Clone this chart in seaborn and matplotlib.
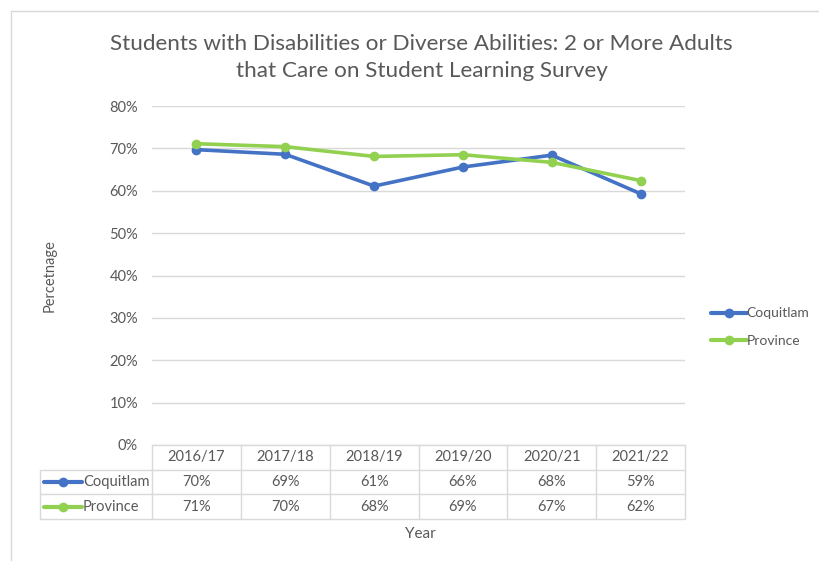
import matplotlib
matplotlib.use("Agg")
import matplotlib.pyplot as plt
import matplotlib.transforms as mtransforms
from matplotlib.lines import Line2D
import seaborn as sns
import pandas as pd

years = ["2016/17", "2017/18", "2018/19", "2019/20", "2020/21", "2021/22"]
coquitlam = [69.7, 68.6, 61.1, 65.6, 68.4, 59.3]
province = [71.1, 70.4, 68.1, 68.5, 66.7, 62.4]
coquitlam_labels = ["70%", "69%", "61%", "66%", "68%", "59%"]
province_labels = ["71%", "70%", "68%", "69%", "67%", "62%"]
series_names = ["Coquitlam", "Province"]
colors = {"Coquitlam": "#4472C4", "Province": "#92D050"}
y_ticks = [0, 10, 20, 30, 40, 50, 60, 70, 80]

df = pd.DataFrame({
    "Year": years * 2,
    "Value": coquitlam + province,
    "Series": ["Coquitlam"] * len(years) + ["Province"] * len(years),
})

sns.set_theme(style="white")
plt.rcParams["font.family"] = ["Lato", "DejaVu Sans"]
text_color = "#595959"
grid_color = "#D9D9D9"

W, H = 819, 561
fig = plt.figure(figsize=(W / 100, H / 100), dpi=100)
ax = fig.add_axes([152 / W, 1 - 445 / H, (685 - 152) / W, (445 - 106) / H])

sns.lineplot(data=df, x="Year", y="Value", hue="Series", palette=colors,
             marker="o", markersize=7, markeredgewidth=0, linewidth=2.6,
             ax=ax, legend=False, sort=False)

ax.set_xlim(-0.5, len(years) - 0.5)
ax.set_ylim(0, 80)
ax.set_yticks(y_ticks)
ax.set_yticklabels([f"{t}%" for t in y_ticks], color=text_color, fontsize=10.5)
ax.tick_params(axis="y", length=0, pad=10)
ax.set_xticks([])
ax.set_xlabel("")
ax.set_ylabel("Percetnage", color=text_color, fontsize=10.5, labelpad=38)
ax.yaxis.grid(True, color=grid_color, linewidth=1)
for s in ax.spines.values():
    s.set_visible(False)

# data table beneath the plot area
trans = mtransforms.blended_transform_factory(ax.transData, ax.transAxes)
row_h = 24.7 / (445 - 106)
col_w_px = (685 - 152) / len(years)
left_edge = -0.5 - (152 - 40) / col_w_px
right_edge = len(years) - 0.5

def hline(x0, x1, y):
    ax.add_line(Line2D([x0, x1], [y, y], transform=trans, color=grid_color,
                       linewidth=1, clip_on=False))

def vline(x, y0, y1):
    ax.add_line(Line2D([x, x], [y0, y1], transform=trans, color=grid_color,
                       linewidth=1, clip_on=False))

hline(-0.5, right_edge, 0)
for k in range(1, 4):
    hline(left_edge, right_edge, -k * row_h)
vline(left_edge, -3 * row_h, -row_h)
for i in range(len(years) + 1):
    vline(i - 0.5, -3 * row_h, 0)

for i, yr in enumerate(years):
    ax.text(i, -0.5 * row_h, yr, transform=trans, ha="center", va="center",
            color=text_color, fontsize=10.5)
for r, (name, labels) in enumerate(zip(series_names, [coquitlam_labels, province_labels])):
    yc = -(1.5 + r) * row_h
    for i, lab in enumerate(labels):
        ax.text(i, yc, lab, transform=trans, ha="center", va="center",
                color=text_color, fontsize=10.5)
    key_x0 = left_edge + 4 / col_w_px
    key_x1 = left_edge + 42 / col_w_px
    ax.add_line(Line2D([key_x0, key_x1], [yc, yc], transform=trans,
                       color=colors[name], linewidth=3, clip_on=False))
    ax.add_line(Line2D([(key_x0 + key_x1) / 2], [yc], transform=trans,
                       color=colors[name], marker="o", markersize=7,
                       markeredgewidth=0, clip_on=False))
    ax.text(key_x1 + 1 / col_w_px, yc, name, transform=trans, ha="left",
            va="center", color=text_color, fontsize=10.5)

fig.text(420 / W, 1 - 534 / H, "Year", ha="center", va="center",
         color=text_color, fontsize=11)

# legend on the right
handles = [Line2D([0], [0], color=colors[n], linewidth=3, marker="o",
                  markersize=7, markeredgewidth=0) for n in series_names]
fig.legend(handles, series_names, loc="center left",
           bbox_to_anchor=(698 / W, 1 - 327 / H), frameon=False,
           handlelength=2.6, handletextpad=0.0, labelspacing=1.1,
           labelcolor=text_color, fontsize=10)

fig.text(0.5 + 12 / W, 1 - 57.5 / H,
         "Students with Disabilities or Diverse Abilities: 2 or More Adults\nthat Care on Student Learning Survey",
         ha="center", va="center", color=text_color, fontsize=16.2,
         linespacing=1.45)

# chart frame
fig.add_artist(Line2D([11 / W, 11 / W], [0, 1 - 11 / H], transform=fig.transFigure,
                      color="#D9D9D9", linewidth=1))
fig.add_artist(Line2D([11 / W, 1], [1 - 11 / H, 1 - 11 / H], transform=fig.transFigure,
                      color="#D9D9D9", linewidth=1))

fig.savefig("out.png", dpi=100, facecolor="white")
